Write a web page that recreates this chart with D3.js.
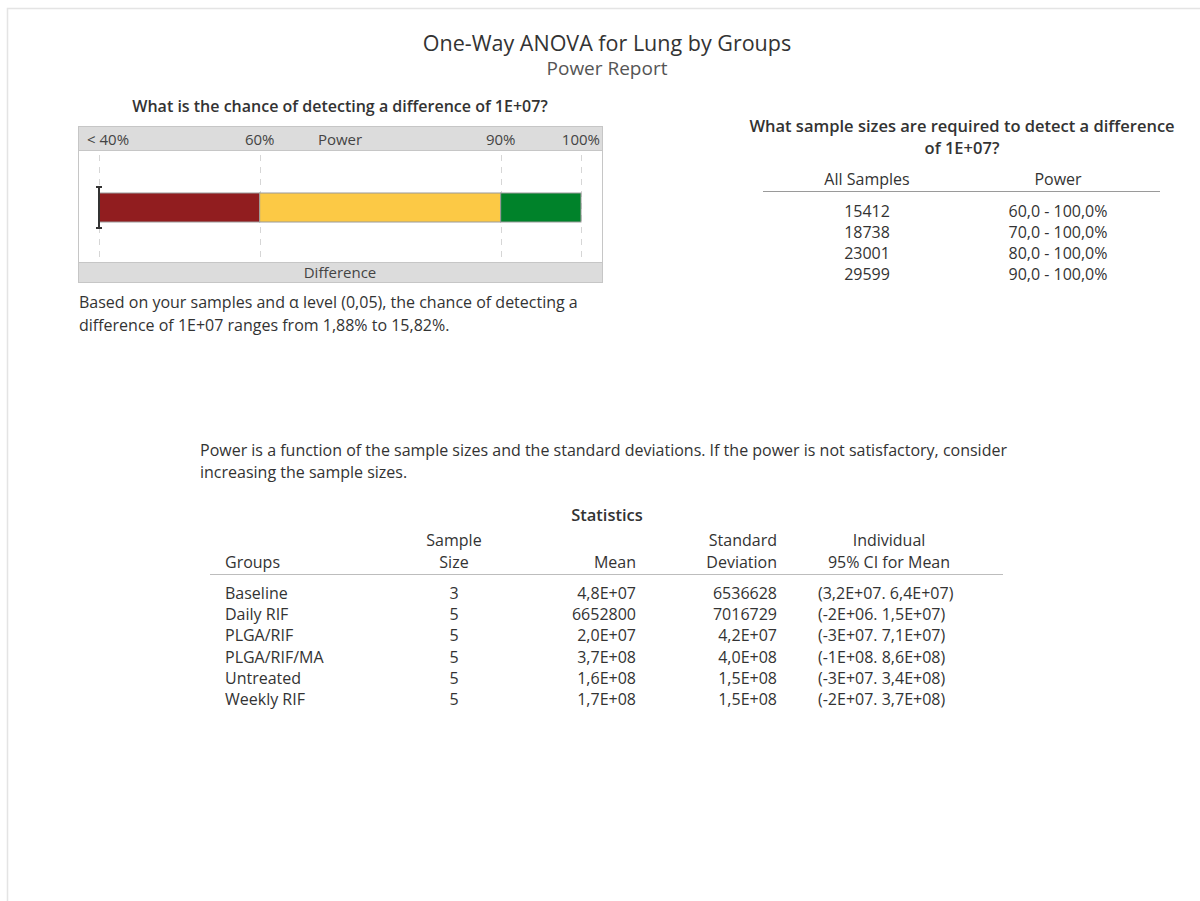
<!DOCTYPE html>
<html>
<head>
<meta charset="utf-8">
<script src="https://cdn.jsdelivr.net/npm/d3@7"></script>
<style>
  html, body { margin: 0; padding: 0; background: #fff; }
  svg text { font-family: "Open Sans", "Noto Sans", sans-serif; fill: #333; }
</style>
</head>
<body>
<svg id="chart" width="1200" height="901"></svg>
<script>
// ---- report data ----
const titleLines = ["One-Way ANOVA for Lung by Groups", "Power Report"];
const difference = "1E+07";
const powerTicks = [40, 60, 90, 100];
const powerTickLabels = ["< 40%", "60%", "90%", "100%"];
const powerZones = [[40, 60], [60, 90], [90, 100]];
const powerRange = [1.88, 15.82];
const alphaLevel = "0,05";

const targetPower = ["60,0 - 100,0%", "70,0 - 100,0%", "80,0 - 100,0%", "90,0 - 100,0%"];
const requiredSamples = [15412, 18738, 23001, 29599];

const groups = ["Baseline", "Daily RIF", "PLGA/RIF", "PLGA/RIF/MA", "Untreated", "Weekly RIF"];
const sampleSizes = [3, 5, 5, 5, 5, 5];
const means = ["4,8E+07", "6652800", "2,0E+07", "3,7E+08", "1,6E+08", "1,7E+08"];
const stdDevs = ["6536628", "7016729", "4,2E+07", "4,0E+08", "1,5E+08", "1,5E+08"];
const ciLower = ["3,2E+07", "-2E+06", "-3E+07", "-1E+08", "-3E+07", "-2E+07"];
const ciUpper = ["6,4E+07", "1,5E+07", "7,1E+07", "8,6E+08", "3,4E+08", "3,7E+08"];

const zoneColors = ["#911d1f", "#fcc945", "#00822a"];

const svg = d3.select("#chart");
const FS = "16px";

// page frame
svg.append("path")
  .attr("d", "M7.5,901 V8.5 H1200")
  .attr("fill", "none").attr("stroke", "#e4e4e4").attr("stroke-width", 1.5);

// titles
svg.append("text").attr("x", 607).attr("y", 51).attr("text-anchor", "middle")
  .style("font-size", "21.5px").text(titleLines[0]);
svg.append("text").attr("x", 607).attr("y", 75).attr("text-anchor", "middle")
  .style("font-size", "19px").style("fill", "#555").text(titleLines[1]);

// ---- power bar panel ----
const box = { x: 78, y: 126, w: 524, h: 156, head: 24, foot: 20 };
svg.append("text").attr("x", 340).attr("y", 112).attr("text-anchor", "middle")
  .style("font-size", "16px").style("font-weight", 600)
  .text(`What is the chance of detecting a difference of ${difference}?`);

const px = d3.scaleLinear().domain([40, 100]).range([99, 581]);

svg.append("rect").attr("x", box.x + 0.5).attr("y", box.y + 0.5)
  .attr("width", box.w).attr("height", box.head)
  .attr("fill", "#dcdcdc").attr("stroke", "#c6c6c6");
svg.append("rect").attr("x", box.x + 0.5).attr("y", box.y + box.h - box.foot + 0.5)
  .attr("width", box.w).attr("height", box.foot)
  .attr("fill", "#dcdcdc").attr("stroke", "#c6c6c6");
svg.append("rect").attr("x", box.x + 0.5).attr("y", box.y + box.head + 0.5)
  .attr("width", box.w).attr("height", box.h - box.head - box.foot)
  .attr("fill", "#fff").attr("stroke", "#c6c6c6");

// tick labels along the header band
svg.selectAll("text.ptick").data(powerTicks).join("text")
  .attr("class", "ptick")
  .attr("x", (d, i) => i === 0 ? box.x + 9 : (i === powerTicks.length - 1 ? box.x + box.w - 2 : px(d)))
  .attr("y", box.y + 19)
  .attr("text-anchor", (d, i) => i === 0 ? "start" : (i === powerTicks.length - 1 ? "end" : "middle"))
  .style("font-size", "15px").style("fill", "#444")
  .text((d, i) => powerTickLabels[i]);
svg.append("text").attr("x", 340).attr("y", box.y + 19).attr("text-anchor", "middle")
  .style("font-size", "15px").style("fill", "#444").text("Power");
svg.append("text").attr("x", 340).attr("y", box.y + box.h - 4).attr("text-anchor", "middle")
  .style("font-size", "15px").style("fill", "#444").text("Difference");

// dashed reference lines
svg.selectAll("line.pgrid").data(powerTicks).join("line")
  .attr("class", "pgrid")
  .attr("x1", d => Math.round(px(d)) + 0.5).attr("x2", d => Math.round(px(d)) + 0.5)
  .attr("y1", box.y + box.head + 5).attr("y2", box.y + box.h - box.foot - 4)
  .attr("stroke", "#d6d6d6").attr("stroke-dasharray", "6,6");

// power zones
const barY = 193, barH = 29;
svg.selectAll("rect.zone").data(powerZones).join("rect")
  .attr("class", "zone")
  .attr("x", d => px(d[0])).attr("y", barY)
  .attr("width", d => px(d[1]) - px(d[0])).attr("height", barH)
  .attr("fill", (d, i) => zoneColors[i])
  .attr("stroke", "#9a9a9a").attr("stroke-width", 1);

// range of attained power (values below the axis floor sit on the left edge)
const rx = powerRange.map(v => px(Math.max(v, px.domain()[0])));
const ebar = svg.append("g").attr("stroke", "#333").attr("stroke-width", 2);
ebar.append("line").attr("x1", rx[0]).attr("x2", rx[1]).attr("y1", 187).attr("y2", 228);
ebar.append("line").attr("x1", rx[0] - 3).attr("x2", rx[0] + 3).attr("y1", 187).attr("y2", 187);
ebar.append("line").attr("x1", rx[1] - 3).attr("x2", rx[1] + 3).attr("y1", 228).attr("y2", 228);

const fmt = v => v.toFixed(2).replace(".", ",") + "%";
svg.append("text").attr("x", 79).attr("y", 308).style("font-size", FS)
  .text(`Based on your samples and \u03b1 level (${alphaLevel}), the chance of detecting a`);
svg.append("text").attr("x", 79).attr("y", 331).style("font-size", FS)
  .text(`difference of ${difference} ranges from ${fmt(powerRange[0])} to ${fmt(powerRange[1])}.`);

// ---- required sample sizes ----
svg.append("text").attr("x", 962).attr("y", 132).attr("text-anchor", "middle")
  .style("font-size", "16.5px").style("font-weight", 600)
  .text("What sample sizes are required to detect a difference");
svg.append("text").attr("x", 962).attr("y", 154).attr("text-anchor", "middle")
  .style("font-size", "16.5px").style("font-weight", 600)
  .text(`of ${difference}?`);
svg.append("text").attr("x", 867).attr("y", 185).attr("text-anchor", "middle")
  .style("font-size", FS).text("All Samples");
svg.append("text").attr("x", 1058).attr("y", 185).attr("text-anchor", "middle")
  .style("font-size", FS).text("Power");
svg.append("line").attr("x1", 763).attr("x2", 1160).attr("y1", 191.5).attr("y2", 191.5)
  .attr("stroke", "#9a9a9a");

const ry = d3.scalePoint().domain(d3.range(requiredSamples.length)).range([217, 280]);
svg.selectAll("text.rs").data(requiredSamples).join("text").attr("class", "rs")
  .attr("x", 867).attr("y", (d, i) => ry(i)).attr("text-anchor", "middle")
  .style("font-size", FS).text(d => d);
svg.selectAll("text.rp").data(targetPower).join("text").attr("class", "rp")
  .attr("x", 1058).attr("y", (d, i) => ry(i)).attr("text-anchor", "middle")
  .style("font-size", FS).text(d => d);

// ---- commentary ----
svg.append("text").attr("x", 200).attr("y", 456).style("font-size", FS)
  .text("Power is a function of the sample sizes and the standard deviations. If the power is not satisfactory, consider");
svg.append("text").attr("x", 200).attr("y", 478).style("font-size", FS)
  .text("increasing the sample sizes.");

// ---- statistics table ----
svg.append("text").attr("x", 607).attr("y", 521).attr("text-anchor", "middle")
  .style("font-size", "16.5px").style("font-weight", 600).text("Statistics");

const cols = [
  { x: 225, anchor: "start", head: ["", "Groups"], vals: groups },
  { x: 454, anchor: "middle", head: ["Sample", "Size"], vals: sampleSizes },
  { x: 636, anchor: "end", head: ["", "Mean"], vals: means },
  { x: 777, anchor: "end", head: ["Standard", "Deviation"], vals: stdDevs },
  { x: 889, anchor: "middle", head: ["Individual", "95% CI for Mean"], vals: null }
];
cols.forEach(c => {
  c.head.forEach((h, k) => {
    if (!h) return;
    svg.append("text").attr("x", c.x).attr("y", 546 + k * 22).attr("text-anchor", c.anchor)
      .style("font-size", FS).text(h);
  });
});
svg.append("line").attr("x1", 210).attr("x2", 1003).attr("y1", 574.5).attr("y2", 574.5)
  .attr("stroke", "#bdbdbd");

const ty = d3.scalePoint().domain(groups).range([599, 705]);
cols.slice(0, 4).forEach((c, ci) => {
  svg.selectAll(`text.c${ci}`).data(c.vals).join("text").attr("class", `c${ci}`)
    .attr("x", c.x).attr("y", (d, i) => ty(groups[i])).attr("text-anchor", c.anchor)
    .style("font-size", FS).text(d => d);
});
svg.selectAll("text.ci").data(groups).join("text").attr("class", "ci")
  .attr("x", 818).attr("y", d => ty(d))
  .style("font-size", FS)
  .text((d, i) => `(${ciLower[i]}. ${ciUpper[i]})`);
</script>
</body>
</html>
